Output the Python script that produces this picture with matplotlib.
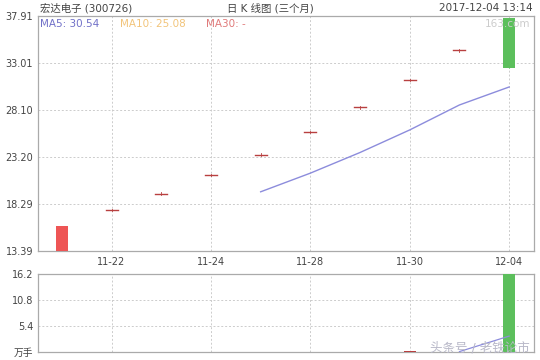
import matplotlib
matplotlib.use("Agg")
import matplotlib.pyplot as plt
import numpy as np

plt.rcParams['font.family'] = ['DejaVu Sans', 'Noto Sans CJK SC']

dates = ["11-21", "11-22", "11-23", "11-24", "11-27", "11-28", "11-29", "11-30", "12-01", "12-04"]
opens = [13.39, 17.64, 19.40, 21.34, 23.47, 25.82, 28.40, 31.24, 34.36, 37.80]
closes = [16.04, 17.64, 19.40, 21.34, 23.47, 25.82, 28.40, 31.24, 34.36, 32.55]
highs = [16.04, 17.64, 19.40, 21.34, 23.47, 25.82, 28.40, 31.24, 34.36, 37.80]
lows = [13.39, 17.64, 19.40, 21.34, 23.47, 25.82, 28.40, 31.24, 34.36, 32.55]
ma5 = [None, None, None, None, 19.58, 21.53, 23.69, 26.05, 28.66, 30.54]
volumes = [0.03, 0.02, 0.02, 0.02, 0.02, 0.02, 0.03, 0.30, 0.08, 16.2]
vol_ma5 = [None, None, None, None, None, None, None, None, 0.09, 3.3]

price_ticks = [13.39, 18.29, 23.20, 28.10, 33.01, 37.91]
vol_ticks = [0, 5.4, 10.8, 16.2]
vol_tick_labels = ["万手", "5.4", "10.8", "16.2"]
xtick_idx = [1, 3, 5, 7, 9]

RED = "#ee5555"
GREEN = "#5cbf5c"
DOJI = "#b84040"
MA5C = "#8c8cdc"
SPINE = "#aaaaaa"
GRID = "#cccccc"
TXT = "#444444"

fig = plt.figure(figsize=(5.4, 3.6), dpi=100)
ax = fig.add_axes([0.0704, 0.3028, 0.9185, 0.6514])
axv = fig.add_axes([0.0704, 0.0222, 0.9185, 0.2167])

x = np.arange(len(dates))
w = 0.24

for a in (ax, axv):
    for s in a.spines.values():
        s.set_color(SPINE)
        s.set_linewidth(0.9)
    a.set_xlim(-0.48, 9.5)
    a.set_xticks(xtick_idx)
    a.grid(True, color=GRID, linestyle=(0, (2, 2)), linewidth=0.7)
    a.set_axisbelow(True)
    a.tick_params(length=0, colors=TXT, labelsize=7)

# candles
for i in range(len(dates)):
    o, c, h, l = opens[i], closes[i], highs[i], lows[i]
    if abs(c - o) < 1e-6:
        ax.plot([i - w / 2, i + w / 2], [c, c], color=DOJI, lw=1.0, zorder=3)
        ax.plot([i, i], [c - 0.12, c + 0.12], color=DOJI, lw=0.6, zorder=3)
    else:
        col = RED if c > o else GREEN
        ax.vlines(i, l, h, color=col, lw=0.8, zorder=3)
        ax.bar(i, abs(c - o), bottom=min(o, c), width=w, color=col, zorder=3)

mx = [i for i, v in enumerate(ma5) if v is not None]
my = [v for v in ma5 if v is not None]
ax.plot(mx, my, color=MA5C, lw=1.0, zorder=4)

ax.set_ylim(price_ticks[0], price_ticks[-1])
ax.set_yticks(price_ticks)
ax.set_yticklabels([f"{t:.2f}" for t in price_ticks])
ax.set_xticklabels([dates[i] for i in xtick_idx])
ax.tick_params(axis='x', pad=4)

# volume
vcols = [RED if closes[i] >= opens[i] else GREEN for i in range(len(dates))]
vcols[7] = DOJI
axv.bar(x, volumes, width=w, color=vcols, zorder=3)
vx = [i for i, v in enumerate(vol_ma5) if v is not None]
vy = [v for v in vol_ma5 if v is not None]
axv.plot(vx, vy, color=MA5C, lw=0.9, zorder=4)
axv.set_ylim(0, vol_ticks[-1])
axv.set_yticks(vol_ticks)
axv.set_yticklabels(vol_tick_labels)
axv.set_xticklabels([])

# header texts
fig.text(40 / 540, 1 - 8 / 360, "宏达电子 (300726)", fontsize=7.5, color=TXT, va='center', ha='left')
fig.text(270 / 540, 1 - 8 / 360, "日 K 线图 (三个月)", fontsize=7.5, color=TXT, va='center', ha='center')
fig.text(533 / 540, 1 - 8 / 360, "2017-12-04 13:14", fontsize=7.5, color=TXT, va='center', ha='right')

fig.text(40 / 540, 1 - 24 / 360, "MA5: 30.54", fontsize=7.5, color="#7070c8", va='center', ha='left')
fig.text(120 / 540, 1 - 24 / 360, "MA10: 25.08", fontsize=7.5, color="#f2c47a", va='center', ha='left')
fig.text(206 / 540, 1 - 24 / 360, "MA30: -", fontsize=7.5, color="#e07a7a", va='center', ha='left')

fig.text(530 / 540, 1 - 24 / 360, "163.com", fontsize=7.5, color="#cccccc", va='center', ha='right', zorder=5)
fig.text(530 / 540, 1 - 348 / 360, "头条号 / 老铁论市", fontsize=9, color="#b8b8c8", va='center', ha='right', zorder=5)

fig.savefig("out.png", dpi=100, facecolor="white")
